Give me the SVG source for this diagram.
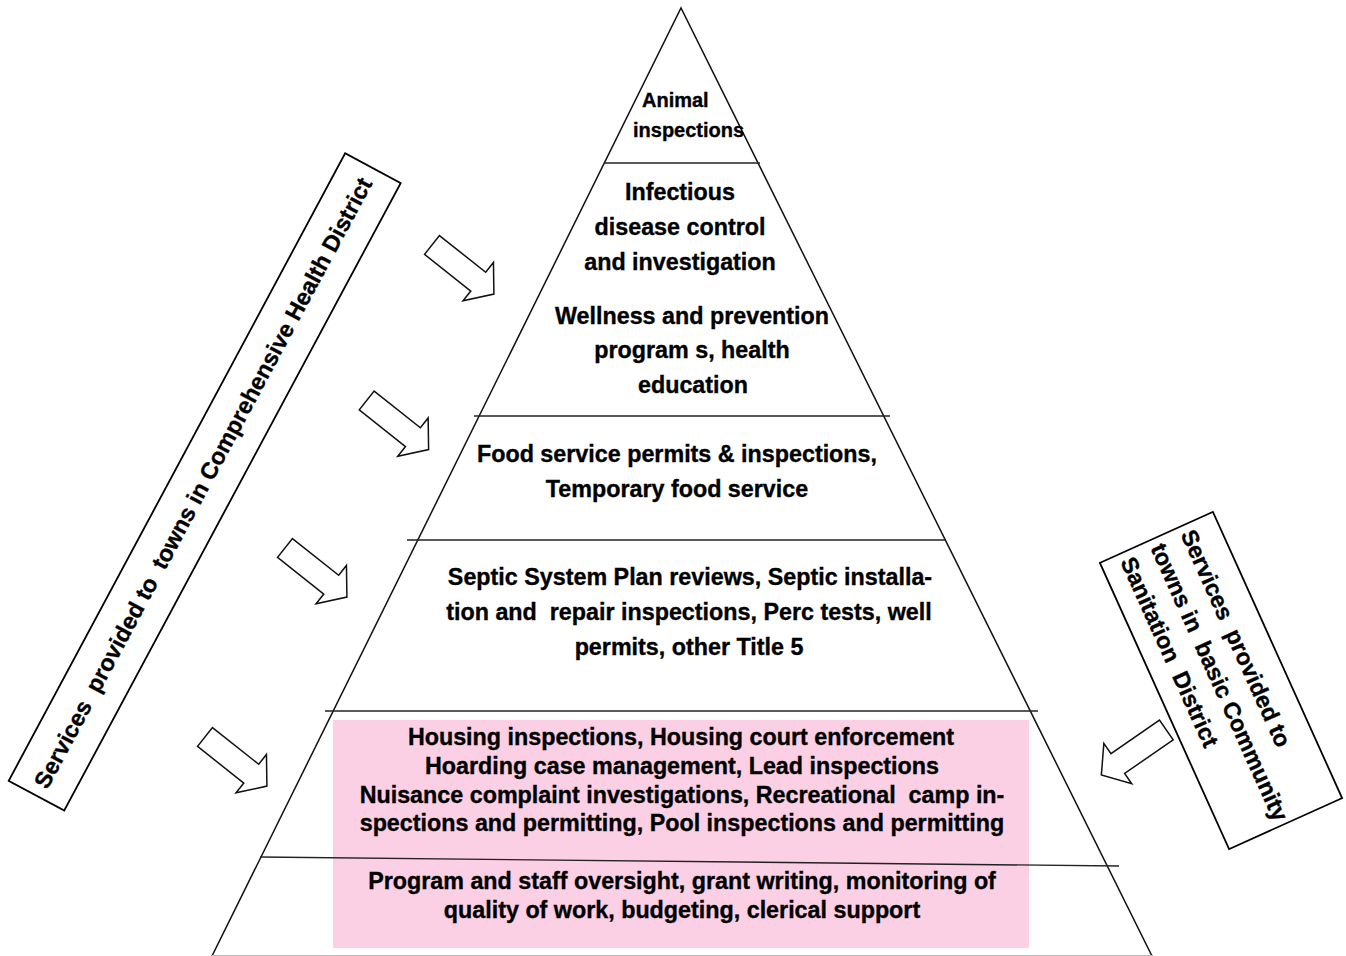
<svg xmlns="http://www.w3.org/2000/svg" width="1346" height="956" viewBox="0 0 1346 956">
  <style>
    .edge { stroke: #111; stroke-width: 1.5; fill: none; }
    .tier { stroke: #222; stroke-width: 1.4; }
    .t { font-family: "Liberation Sans", Arial, sans-serif; font-weight: bold; font-size: 23.3px; fill: #000; stroke: #000; stroke-width: 0.35; text-anchor: middle; }
    .small { font-size: 20px; text-anchor: start; }
    .side { text-anchor: start; }
    .box { fill: #fff; stroke: #000; stroke-width: 1.8; }
    .arrow { fill: #fff; stroke: #111; stroke-width: 1.5; stroke-linejoin: miter; }
  </style>
  <defs>
    <!-- block arrow pointing along +x, tail centred at the origin -->
    <path id="blockArrow" d="M0,-12 L59,-12 L59,-24.5 L79,0 L59,24.5 L59,12 L0,12 Z"/>
  </defs>

  <rect width="1346" height="956" fill="#fff"/>

  <!-- shaded band behind the two lowest tiers -->
  <rect x="333" y="720" width="696" height="228" fill="#fbd0e4"/>

  <!-- pyramid outline and tier separators -->
  <g id="pyramid">
    <path class="edge" d="M212,956 L681,8 L1152,956"/>
    <line x1="212" y1="955.5" x2="1152" y2="955.5" stroke="#bbb" stroke-width="1"/>
    <line class="tier" x1="604" y1="163" x2="760" y2="163"/>
    <line class="tier" x1="474" y1="416" x2="890" y2="416"/>
    <line class="tier" x1="407" y1="540" x2="946" y2="540"/>
    <line class="tier" x1="325" y1="711" x2="1038" y2="711"/>
    <line class="tier" x1="260" y1="857" x2="1119" y2="866"/>
  </g>

  <g id="tier-animal">
    <text class="t small" x="642" y="107">Animal</text>
    <text class="t small" x="633" y="137">inspections</text>
  </g>

  <g id="tier-disease">
    <text class="t" x="680" y="200">Infectious</text>
    <text class="t" x="680" y="235">disease control</text>
    <text class="t" x="680" y="270">and investigation</text>
    <text class="t" x="692" y="324">Wellness and prevention</text>
    <text class="t" x="692" y="358">program s, health</text>
    <text class="t" x="693" y="393">education</text>
  </g>

  <g id="tier-food">
    <text class="t" x="677" y="462">Food service permits &amp; inspections,</text>
    <text class="t" x="677" y="497">Temporary food service</text>
  </g>

  <g id="tier-septic">
    <text class="t" x="690" y="585">Septic System Plan reviews, Septic installa-</text>
    <text class="t" x="689" y="620" xml:space="preserve">tion and  repair inspections, Perc tests, well</text>
    <text class="t" x="689" y="655">permits, other Title 5</text>
  </g>

  <g id="tier-housing">
    <text class="t" x="681" y="745">Housing inspections, Housing court enforcement</text>
    <text class="t" x="682" y="774">Hoarding case management, Lead inspections</text>
    <text class="t" x="682" y="803" xml:space="preserve">Nuisance complaint investigations, Recreational  camp in-</text>
    <text class="t" x="682" y="831">spections and permitting, Pool inspections and permitting</text>
  </g>

  <g id="tier-admin">
    <text class="t" x="682" y="889">Program and staff oversight, grant writing, monitoring of</text>
    <text class="t" x="682" y="918">quality of work, budgeting, clerical support</text>
  </g>

  <!-- side labels -->
  <g id="label-comprehensive" transform="translate(204.7,481.9) rotate(-61.8)">
    <rect class="box" x="-356" y="-31.5" width="712" height="63"/>
    <text class="t side" x="-346" y="7" xml:space="preserve">Services  provided to  towns in Comprehensive Health District</text>
  </g>

  <g id="label-sanitation" transform="translate(1221,680.5) rotate(65.7)">
    <rect class="box" x="-157" y="-62" width="314" height="124"/>
    <text class="t side" x="-150" y="-23" xml:space="preserve">Services  provided to</text>
    <text class="t side" x="-150" y="10" xml:space="preserve">towns in  basic Community</text>
    <text class="t side" x="-150" y="43" xml:space="preserve">Sanitation  District</text>
  </g>

  <!-- connectors: block arrows pointing into the pyramid -->
  <g id="connectors">
    <use href="#blockArrow" class="arrow" transform="translate(432,245) rotate(38.4)"/>
    <use href="#blockArrow" class="arrow" transform="translate(366.7,400.5) rotate(38.4)"/>
    <use href="#blockArrow" class="arrow" transform="translate(285,548) rotate(38.4)"/>
    <use href="#blockArrow" class="arrow" transform="translate(205,737) rotate(38.4)"/>
    <use href="#blockArrow" class="arrow" transform="translate(1166.3,730) rotate(145.3)"/>
  </g>
</svg>
